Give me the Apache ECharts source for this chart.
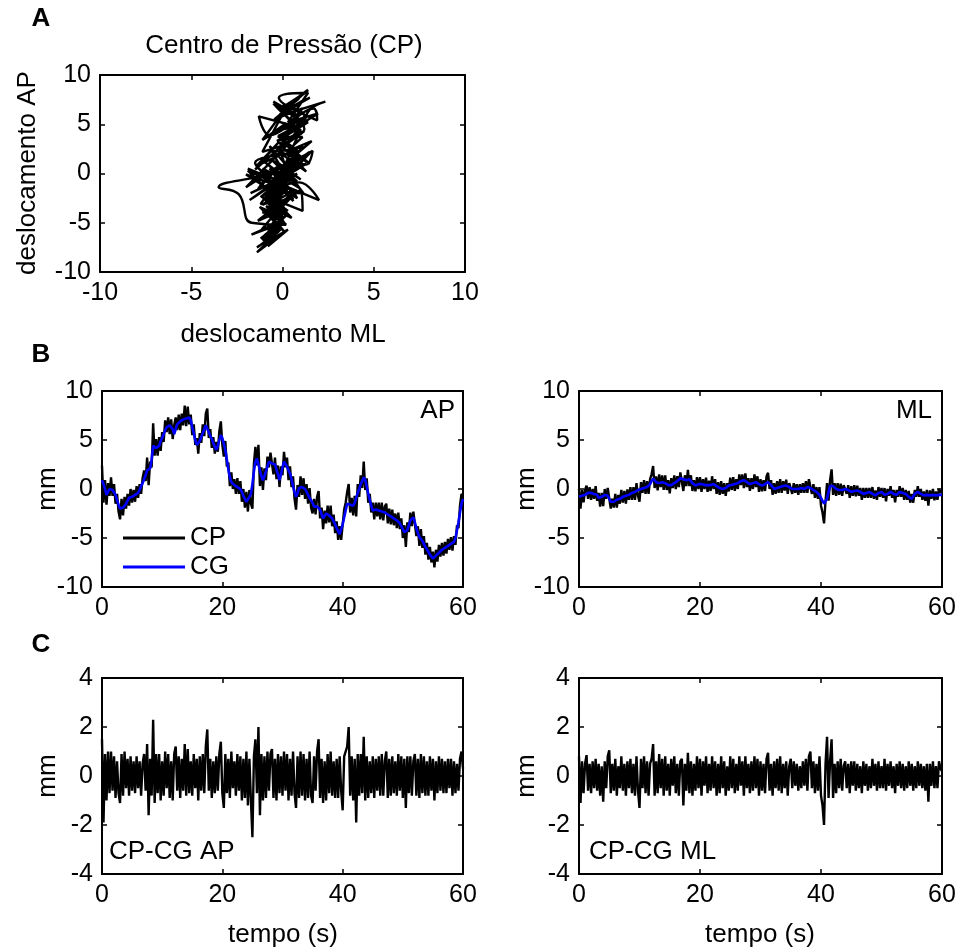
<!DOCTYPE html>
<html><head><meta charset="utf-8">
<script src="https://cdn.jsdelivr.net/npm/echarts@6/dist/echarts.min.js"></script>
<style>html,body{margin:0;padding:0;background:#fff}#c{width:962px;height:950px}</style>
</head><body><div id="c"></div>
<script>
// sampling step of all time series (seconds)
const sampleStep = 0.25;

// CG antero-posterior (mm), one row per second
const cgAP = [
 0.9,0.5,0.0,-0.6, -0.4,0.0,0.2,-0.1, -0.3,-0.6,-1.1,-1.6, -2.0,-1.9,-1.9,-1.8,
 -1.5,-1.2,-0.9,-0.8, -0.8,-0.7,-0.6,-0.5, -0.4,-0.1,0.3,0.6, 1.0,1.4,1.9,2.0,
 2.1,3.0,4.4,4.5, 4.2,4.1,4.4,4.9, 5.2,5.6,6.0,6.3, 6.4,6.5,6.5,6.1,
 5.6,6.1,6.6,6.8, 6.9,7.0,7.1,7.2, 7.2,7.3,7.3,7.0, 6.3,5.7,5.0,4.5,
 4.6,4.9,5.3,5.7, 6.1,6.5,6.3,5.8, 5.4,5.1,4.7,4.3, 4.0,4.4,5.0,5.5,
 5.2,4.6,4.0,3.0, 2.0,1.2,0.7,0.5, 0.4,0.3,0.2,0.1, 0.0,-0.3,-0.7,-1.0,
 -1.3,-1.1,-0.8,-0.5, 0.5,1.8,2.8,3.1, 2.5,1.9,1.3,0.9, 1.3,1.8,2.3,2.8,
 2.8,2.6,2.4,2.5, 2.0,1.5,0.9,1.5, 2.2,2.8,2.8,2.3, 1.9,1.6,1.0,0.3,
 -0.3,-0.8,-0.4,0.1, 0.3,0.2,0.2,0.0, -0.2,-0.6,-0.9,-1.1, -1.4,-1.8,-2.0,-1.8,
 -1.7,-2.1,-2.6,-3.0, -2.8,-2.5,-2.6,-2.7, -2.7,-3.0,-3.2,-3.6, -4.0,-4.3,-4.6,-4.6,
 -3.6,-2.9,-2.2,-1.5, -1.5,-1.6,-1.7,-1.7, -1.4,-0.9,-0.4,0.0, 0.5,0.8,1.2,0.9,
 0.3,-0.5,-1.1,-1.7, -2.2,-2.2,-2.1,-2.2, -2.2,-2.3,-2.3,-2.4, -2.4,-2.5,-2.6,-2.7,
 -2.8,-2.9,-3.0,-3.1, -3.2,-3.3,-3.5,-3.8, -4.1,-4.4,-4.6,-4.2, -3.7,-3.2,-3.0,-2.9,
 -3.4,-4.0,-4.5,-4.9, -5.0,-5.3,-5.6,-5.9, -6.1,-6.4,-6.7,-6.9, -7.1,-7.0,-6.8,-6.7,
 -6.5,-6.3,-6.2,-6.1, -6.0,-5.9,-5.8,-5.7, -5.6,-5.5,-5.4,-5.0, -4.2,-3.4,-2.4,-1.5,
 -1.0
];

// CP - CG antero-posterior (mm)
const diffAP = [
 1.5,-1.9,0.9,-1.0, 1.0,-0.7,1.0,-0.6, 0.8,-0.9,0.6,-0.7, -1.1,0.9,-0.8,1.0,
 -0.5,0.7,-0.8,0.8, -0.6,0.6,-0.7,0.8, -0.5,0.6,-0.8,0.5, 0.9,-0.6,1.3,-1.6,
 0.7,-0.8,2.3,-1.1, 0.9,-0.7,0.9,-1.0, 0.6,-0.8,1.0,-0.5, 0.9,-0.9,0.6,-1.0,
 0.9,1.2,-0.6,0.8, -0.9,0.7,-0.6,1.3, -0.8,1.1,-0.7,0.6, -0.8,0.9,-0.5,0.7,
 -1.0,0.8,-0.6,0.9, -0.7,1.2,1.9,-0.6, 0.7,-0.9,0.6,-0.7, 0.8,-0.6,0.9,1.4,
 -0.7,-1.3,0.9,-0.7, 0.7,-0.9,1.0,-0.5, 0.6,-0.8,0.9,-0.6, 0.8,-1.0,0.7,-0.9,
 1.0,-1.2,0.7,-1.0, -2.5,0.8,1.5,-0.7, 2.0,-1.6,0.9,-1.0, 0.8,-0.9,1.0,-0.6,
 0.9,1.1,-0.9,0.7, -1.0,0.9,-0.7,0.8, -0.8,1.0,-0.6,0.9, -1.0,0.7,-0.8,1.0,
 -0.7,-1.3,0.8,-0.9, 1.0,-0.8,0.9,-1.0, 0.7,-0.9,1.0,-0.8, -1.1,0.8,-0.6,1.0,
 1.5,-0.9,0.7,-1.1, 0.6,-1.0,0.9,-0.7, 1.0,-0.8,0.6,-0.9, 0.7,-0.9,0.8,-0.6,
 -1.4,0.8,0.8,1.2, 2.0,-0.8,0.8,-1.0, 0.7,-1.9,0.9,-0.8, 0.9,-0.7,1.6,-1.0,
 0.8,-0.9,0.6,-0.7, 0.8,-0.9,0.7,-0.6, 0.8,-0.8,0.9,-0.8, 0.6,1.0,-0.9,0.7,
 -0.8,0.8,-0.7,0.6, -0.8,0.9,-0.6,0.8, -0.9,0.7,-1.3,0.8, -0.7,0.8,-0.8,0.6,
 0.9,-0.8,0.7,-0.9, 0.9,-0.7,0.8,-0.8, 0.6,-0.8,0.8,-0.6, 0.7,-1.0,0.6,-0.7,
 0.8,-0.6,0.7,-0.7, 0.6,-0.7,0.7,-0.5, 0.7,-0.8,0.6,-0.7, 0.5,-0.6,0.7,1.0,
 0.3
];

// CG medio-lateral (mm)
const cgML = [
 -0.8,-0.9,-0.7,-0.65, -0.6,-0.5,-0.4,-0.3, -0.4,-0.6,-0.5,-0.4, -0.6,-0.9,-1.0,-0.8,
 -0.7,-0.6,-0.5,-0.7, -1.0,-1.3,-1.5,-1.3, -1.2,-1.1,-1.0,-1.0, -0.9,-0.8,-0.7,-0.7,
 -0.65,-0.6,-0.5,-0.4, -0.3,-0.3,-0.2,-0.1, 0.0,0.0,0.1,0.1, 0.2,0.2,0.3,0.5,
 0.8,1.05,0.9,0.7, 0.55,0.6,0.7,0.7, 0.7,0.6,0.5,0.4, 0.35,0.4,0.5,0.6,
 0.7,0.8,1.0,1.1, 1.2,1.0,0.9,0.9, 1.0,1.0,0.8,0.6, 0.4,0.35,0.4,0.5,
 0.5,0.5,0.4,0.4, 0.35,0.4,0.35,0.4, 0.5,0.5,0.4,0.3, 0.2,0.1,0.0,0.0,
 0.0,0.1,0.2,0.35, 0.35,0.4,0.5,0.5, 0.5,0.6,0.7,0.8, 0.9,0.9,0.8,0.7,
 0.6,0.5,0.5,0.6, 0.7,0.7,0.6,0.5, 0.4,0.35,0.4,0.5, 0.6,0.7,0.6,0.4,
 0.2,0.0,0.0,0.1, 0.2,0.2,0.3,0.3, 0.35,0.35,0.3,0.2, 0.1,0.0,0.0,0.0,
 0.0,0.0,0.1,0.1, 0.0,0.0,0.1,0.2, 0.2,0.1,0.0,-0.1, -0.2,-0.3,-0.4,-0.6,
 -0.9,-1.2,-1.5,-1.7, -1.0,-0.3,0.3,0.5, 0.3,0.1,0.0,0.0, -0.1,-0.15,-0.1,0.0,
 0.0,0.0,-0.1,-0.2, -0.3,-0.3,-0.2,-0.15, -0.15,-0.2,-0.3,-0.4, -0.5,-0.5,-0.4,-0.3,
 -0.3,-0.4,-0.5,-0.6, -0.65,-0.5,-0.4,-0.3, -0.3,-0.4,-0.6,-0.65, -0.5,-0.3,-0.3,-0.4,
 -0.5,-0.65,-0.6,-0.4, -0.3,-0.3,-0.4,-0.5, -0.5,-0.6,-0.8,-1.0, -1.0,-0.8,-0.5,-0.3,
 -0.3,-0.4,-0.5,-0.6, -0.65,-0.6,-0.6,-0.65, -0.65,-0.6,-0.6,-0.65, -0.65,-0.6,-0.6,-0.6,
 -0.6
];

// CP - CG medio-lateral (mm)
const diffML = [
 0.8,-1.1,0.6,-0.7, 0.5,0.85,-0.6,0.5, -0.7,0.6,-0.5,0.7, -0.6,0.5,-0.8,0.4,
 -1.05,0.6,-0.5,0.8, 1.05,-0.7,0.5,-0.6, 0.7,-0.8,0.4,-0.5, 0.8,-0.6,0.5,-0.8,
 0.6,-0.5,0.7,-0.7, 0.5,-0.8,0.8,-0.6, -1.3,0.7,-0.5,0.8, -0.7,0.6,-0.8,0.5,
 0.7,1.3,-0.8,0.6, -0.7,0.9,-0.5,0.7, -0.8,0.8,-0.6,0.5, -0.8,0.7,-0.4,0.8,
 -0.7,0.5,-0.8,0.6, 0.7,-1.2,0.5,-0.6, 0.95,-0.7,0.6,-0.8, 0.5,-0.6,0.8,-0.5,
 0.7,-0.8,0.6,-0.4, 0.8,-0.7,0.5,-0.6, 0.8,-0.5,0.6,-0.8, 0.5,-0.7,0.8,-0.5,
 0.6,-0.8,0.4,-0.6, 0.8,-0.5,0.7,-0.7, 0.5,-0.6,0.8,-0.4, 0.6,-0.8,0.8,-0.5,
 0.5,-0.7,0.6,-0.6, 0.8,-0.5,0.7,-0.8, 0.6,-0.6,0.5,-0.7, 0.7,0.95,-0.6,0.5,
 -0.8,0.6,-0.5,0.7, -0.6,0.8,-0.7,0.5, -0.5,0.6,-0.8,0.4, 0.7,-0.5,0.6,-0.4,
 0.5,-0.6,0.4,-0.5, 0.6,-0.4,0.7,-0.6, 0.8,1.0,-0.5,0.6, -0.7,0.5,-0.6,0.8,
 -0.8,-1.2,-2.0,0.5, 1.6,-0.9,0.6,1.5, -0.9,0.5,-0.7,0.6, -0.5,0.7,-0.6,0.4,
 0.6,-0.5,0.5,-0.7, 0.6,-0.4,0.6,-0.6, 0.5,-0.5,0.4,-0.7, 0.6,-0.4,0.5,-0.6,
 0.4,-0.5,0.7,-0.4, 0.5,-0.6,0.6,-0.5, 0.4,-0.5,0.7,-0.6, 0.5,-0.4,0.6,-0.5,
 0.4,-0.7,0.5,-0.4, 0.6,-0.5,0.5,-0.6, 0.4,-0.5,0.6,-0.4, 0.5,-0.6,0.4,-0.5,
 0.6,-0.4,0.5,-0.5, 0.4,-0.6,0.5,-1.05, 0.5,-0.4,0.6,-0.5, 0.4,-0.5,0.6,0.3,
 0.2
];

// axis ranges / ticks
const dispRange = [-10, 10], dispStep = 5;
const timeRange = [0, 60], timeStep = 20;
const mmRange = [-10, 10], mmStep = 5;
const diffRange = [-4, 4], diffStep = 2;

// derived series
const time = cgAP.map((_, i) => i * sampleStep);
const cpAP = cgAP.map((v, i) => +(v + diffAP[i]).toFixed(3));
const cpML = cgML.map((v, i) => +(v + diffML[i]).toFixed(3));
const pairs = (ys) => ys.map((v, i) => [time[i], v]);

const FONT = "'Liberation Sans', Arial, sans-serif";
const FS = 25;   // tick labels
const FT = 26;   // titles / annotations

const grids = [
  {left: 100, top: 75, width: 365, height: 197},
  {left: 102, top: 391, width: 361, height: 196},
  {left: 579, top: 391, width: 363, height: 196},
  {left: 102, top: 678, width: 361, height: 196},
  {left: 579, top: 678, width: 363, height: 196}
].map(g => Object.assign({show: false, outerBoundsMode: 'none', containLabel: false}, g));

const ranges = [
  [dispRange, dispStep, dispRange, dispStep],
  [timeRange, timeStep, mmRange, mmStep],
  [timeRange, timeStep, mmRange, mmStep],
  [timeRange, timeStep, diffRange, diffStep],
  [timeRange, timeStep, diffRange, diffStep]
];

function axis(kind, gi, pos, rng, step, labels) {
  return {
    type: 'value', gridIndex: gi, position: pos,
    min: rng[0], max: rng[1], interval: step,
    axisLine: {show: true, onZero: false, lineStyle: {color: '#000', width: 2}},
    axisTick: {show: true, inside: true, length: 5, lineStyle: {color: '#000', width: 1.5}},
    axisLabel: {show: labels, color: '#000', fontSize: FS, fontFamily: FONT, margin: 9},
    splitLine: {show: false}
  };
}

const xAxes = [], yAxes = [];
ranges.forEach((r, gi) => {
  xAxes.push(axis('x', gi, 'bottom', r[0], r[1], true));
  xAxes.push(axis('x', gi, 'top', r[0], r[1], false));
  yAxes.push(axis('y', gi, 'left', r[2], r[3], true));
  yAxes.push(axis('y', gi, 'right', r[2], r[3], false));
});

const lineBase = {type: 'line', showSymbol: false, symbol: 'none', silent: true, animation: false, clip: true};
const BLACK = '#000000', BLUE = '#0000ff';

const series = [
  Object.assign({}, lineBase, {name: 'CP trajetória', xAxisIndex: 0, yAxisIndex: 0, smooth: 0.45,
    data: cpML.map((x, i) => [x, cpAP[i]]), itemStyle: {color: BLACK}, lineStyle: {color: BLACK, width: 2.4}}),
  Object.assign({}, lineBase, {name: 'CP', xAxisIndex: 2, yAxisIndex: 2,
    data: pairs(cpAP), itemStyle: {color: BLACK}, lineStyle: {color: BLACK, width: 2.4}}),
  Object.assign({}, lineBase, {name: 'CG', xAxisIndex: 2, yAxisIndex: 2,
    data: pairs(cgAP), itemStyle: {color: BLUE}, lineStyle: {color: BLUE, width: 2.6}}),
  Object.assign({}, lineBase, {name: 'CP', xAxisIndex: 4, yAxisIndex: 4,
    data: pairs(cpML), itemStyle: {color: BLACK}, lineStyle: {color: BLACK, width: 2.4}}),
  Object.assign({}, lineBase, {name: 'CG', xAxisIndex: 4, yAxisIndex: 4,
    data: pairs(cgML), itemStyle: {color: BLUE}, lineStyle: {color: BLUE, width: 2.6}}),
  Object.assign({}, lineBase, {name: 'CP-CG AP', xAxisIndex: 6, yAxisIndex: 6,
    data: pairs(diffAP), itemStyle: {color: BLACK}, lineStyle: {color: BLACK, width: 2.4}}),
  Object.assign({}, lineBase, {name: 'CP-CG ML', xAxisIndex: 8, yAxisIndex: 8,
    data: pairs(diffML), itemStyle: {color: BLACK}, lineStyle: {color: BLACK, width: 2.4}})
];

function txt(text, x, y, opts) {
  opts = opts || {};
  return {
    type: 'text', x: x, y: y, rotation: opts.rot || 0, z: 100,
    style: {
      text: text, fill: '#000',
      font: (opts.bold ? 'bold ' : '') + (opts.size || FT) + 'px ' + FONT,
      align: opts.align || 'center', verticalAlign: 'middle',
      textAlign: opts.align || 'center', textVerticalAlign: 'middle'
    }
  };
}

const graphics = [
  txt('A', 41, 19, {bold: true}),
  txt('B', 41, 355, {bold: true}),
  txt('C', 41, 645, {bold: true}),
  txt('Centro de Pressão (CP)', 284, 46),
  txt('deslocamento AP', 28, 173, {rot: Math.PI / 2}),
  txt('deslocamento ML', 283, 335),
  txt('mm', 48, 489, {rot: Math.PI / 2}),
  txt('mm', 527, 489, {rot: Math.PI / 2}),
  txt('mm', 48, 776, {rot: Math.PI / 2}),
  txt('mm', 527, 776, {rot: Math.PI / 2}),
  txt('tempo (s)', 283, 935),
  txt('tempo (s)', 760, 935),
  txt('AP', 455, 411, {align: 'right'}),
  txt('ML', 932, 411, {align: 'right'}),
  txt('CP-CG AP', 109, 852, {align: 'left'}),
  txt('CP-CG ML', 589, 852, {align: 'left'})
];

const chart = echarts.init(document.getElementById('c'), null, {renderer: 'canvas'});
chart.setOption({
  animation: false,
  backgroundColor: '#fff',
  grid: grids,
  xAxis: xAxes,
  yAxis: yAxes,
  legend: {
    show: true, orient: 'vertical', left: 118, top: 520,
    itemWidth: 62, itemHeight: 3, itemGap: 3,
    selectedMode: false,
    data: [{name: 'CP', icon: 'rect', itemStyle: {color: BLACK}}, {name: 'CG', icon: 'rect', itemStyle: {color: BLUE}}],
    textStyle: {color: '#000', fontSize: FT, fontFamily: FONT}
  },
  series: series,
  graphic: graphics
});
</script>
</body></html>
